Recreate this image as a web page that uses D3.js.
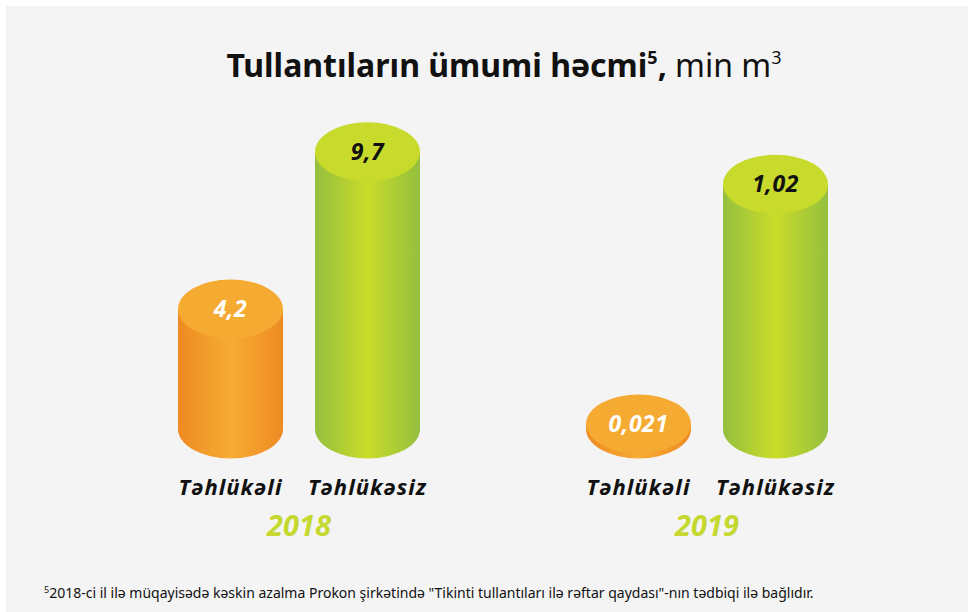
<!DOCTYPE html>
<html>
<head>
<meta charset="utf-8">
<script src="https://cdn.jsdelivr.net/npm/d3@7"></script>
<style>
  body { margin: 0; background: #fff; }
  svg text { font-family: "Noto Sans", sans-serif; }
</style>
</head>
<body>
<div id="chart-area"></div>
<script>
/*
*    main.js - waste volume cylinders
*/

var years = ["2018", "2019"];
var types = ["Təhlükəli", "Təhlükəsiz"];
var hazardous = [4.2, 0.021];
var safe = [9.7, 1.02];
var valueLabels = [["4,2", "9,7"], ["0,021", "1,02"]];
var yearMax = [10.5, 1.25];   // each year has its own scale in the original

var W = 968, H = 612;
var svg = d3.select("#chart-area").append("svg").attr("width", W).attr("height", H);

var defs = svg.append("defs");
function sideGradient(id, edge, mid) {
	var gr = defs.append("linearGradient").attr("id", id)
		.attr("x1", "0%").attr("x2", "100%").attr("y1", "0%").attr("y2", "0%");
	gr.append("stop").attr("offset", "0%").attr("stop-color", edge);
	gr.append("stop").attr("offset", "50%").attr("stop-color", mid);
	gr.append("stop").attr("offset", "100%").attr("stop-color", edge);
}
sideGradient("grad-orange", "#ee8a22", "#f6ac33");
sideGradient("grad-green", "#94bf3e", "#c9dc2a");

var colors = {
	"Təhlükəli": {side: "url(#grad-orange)", top: "#f5aa31", text: "#ffffff"},
	"Təhlükəsiz": {side: "url(#grad-green)", top: "#c8db2c", text: "#111111"}
};

// background panel
svg.append("rect")
	.attr("x", 6).attr("y", 6)
	.attr("width", W - 6).attr("height", H - 6)
	.attr("fill", "#f4f4f4");

// title
var title = svg.append("text")
	.attr("x", 504).attr("y", 77)
	.attr("text-anchor", "middle")
	.attr("font-size", "32px")
	.attr("fill", "#111");
title.append("tspan").attr("font-weight", "bold").text("Tullantıların ümumi həcmi");
title.append("tspan").attr("font-weight", "bold").attr("font-size", "18px").attr("dy", -13).text("5");
title.append("tspan").attr("font-weight", "bold").attr("dy", 13).text(",");
title.append("tspan").text(" min m");
title.append("tspan").attr("font-size", "18px").attr("dy", -13).text("3");

var x0 = d3.scaleBand().domain(years).range([95, 911]);
var x1 = d3.scalePoint().domain(types).range([-68.5, 68.5]);

var baseY = 429;
var rx = 52.5, ry = 29.5;
var yScales = years.map(function(yr, i) {
	return d3.scaleLinear().domain([0, yearMax[i]]).range([0, 300]);
});

var data = [];
years.forEach(function(yr, i) {
	types.forEach(function(t, j) {
		data.push({
			year: yr, type: t, yi: i,
			value: j === 0 ? hazardous[i] : safe[i],
			label: valueLabels[i][j]
		});
	});
});

var bars = svg.selectAll("g.bar").data(data).enter().append("g")
	.attr("class", "bar")
	.attr("transform", d => "translate(" + (x0(d.year) + x0.bandwidth() / 2 + x1(d.type)) + ",0)");

bars.append("path")
	.attr("d", d => {
		var top = baseY - yScales[d.yi](d.value);
		return "M" + (-rx) + "," + top + " L" + (-rx) + "," + baseY +
			" A" + rx + "," + ry + " 0 0 0 " + rx + "," + baseY +
			" L" + rx + "," + top + " Z";
	})
	.attr("fill", d => colors[d.type].side);

bars.append("ellipse")
	.attr("cx", 0)
	.attr("cy", d => baseY - yScales[d.yi](d.value))
	.attr("rx", rx).attr("ry", ry)
	.attr("fill", d => colors[d.type].top);

bars.append("text")
	.attr("x", 0)
	.attr("y", d => baseY - yScales[d.yi](d.value) + 8)
	.attr("text-anchor", "middle")
	.attr("font-size", "23px")
	.attr("font-weight", "bold")
	.attr("font-style", "italic")
	.attr("letter-spacing", "0.5px")
	.attr("fill", d => colors[d.type].text)
	.text(d => d.label);

// category labels
bars.append("text")
	.attr("x", 0).attr("y", 495)
	.attr("text-anchor", "middle")
	.attr("font-size", "22px")
	.attr("font-weight", "bold")
	.attr("font-style", "italic")
	.attr("letter-spacing", "1px")
	.attr("fill", "#111")
	.text(d => d.type);

// year labels
svg.selectAll("text.year").data(years).enter().append("text")
	.attr("class", "year")
	.attr("x", d => x0(d) + x0.bandwidth() / 2)
	.attr("y", 536)
	.attr("text-anchor", "middle")
	.attr("font-size", "29px")
	.attr("font-weight", "bold")
	.attr("font-style", "italic")
	.attr("fill", "#c5d82f")
	.text(d => d);

// footnote
var note = svg.append("text")
	.attr("x", 44).attr("y", 598)
	.attr("font-size", "14px")
	.attr("fill", "#111");
note.append("tspan").attr("font-size", "9px").attr("dy", -5).text("5");
note.append("tspan").attr("dy", 5)
	.text("2018-ci il ilə müqayisədə kəskin azalma Prokon şirkətində \"Tikinti tullantıları ilə rəftar qaydası\"-nın tədbiqi ilə bağlıdır.");
</script>
</body>
</html>
